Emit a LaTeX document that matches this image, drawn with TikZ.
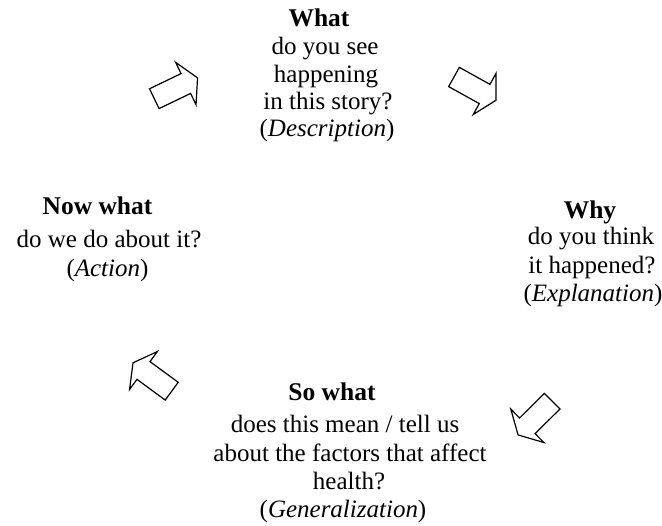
\documentclass[tikz,border=0pt]{standalone}
\usepackage{fontspec}
\setmainfont{Liberation Serif}
\begin{document}
\begin{tikzpicture}[x=1pt,y=-1pt,
  txt/.style={anchor=base,inner sep=0pt,font=\fontsize{25}{29}\selectfont},
  head/.style={txt,font=\fontsize{25.5}{29}\selectfont\bfseries},
  outline/.style={draw=black,line width=1.2pt,line join=miter,fill=white},
  cyclearrow/.pic={
    \draw[outline] (0,-11) -- (35,-11) -- (35,-23.5) -- (48,0)
      -- (35,23.5) -- (35,11) -- (0,11) -- cycle;
  }]
\useasboundingbox (0,0) rectangle (662,526);

% What
\node[head] (what)  at (319,27)  {What};
\node[txt]  (what1) at (325,55)  {do you see};
\node[txt]  (what2) at (326,82.5){happening};
\node[txt]  (what3) at (328,110) {in this story?};
\node[txt]  (what4) at (327,137) {(\textit{Description})};

% Why
\node[head] (why)  at (590,219)   {Why};
\node[txt]  (why1) at (591,245)   {do you think};
\node[txt]  (why2) at (592,274)   {it happened?};
\node[txt]  (why3) at (593,301.7) {(\textit{Explanation})};

% So what
\node[head] (so)  at (332,401)   {So what};
\node[txt]  (so1) at (345,433)   {does this mean / tell us};
\node[txt]  (so2) at (350,461.7) {about the factors that affect};
\node[txt]  (so3) at (349,490)   {health?};
\node[txt]  (so4) at (343,518)   {(\textit{Generalization})};

% Now what
\node[head] (now)  at (97.5,215)  {Now what};
\node[txt]  (now1) at (109,247.5) {do we do about it?};
\node[txt]  (now2) at (107.5,277) {(\textit{Action})};

% block arrows of the cycle
\pic[rotate=25.7]   (arrowA) at (154.3,98.7)  {cyclearrow};
\pic[rotate=-29]    (arrowB) at (454,77)      {cyclearrow};
\pic[rotate=-135.3] (arrowC) at (552.2,401.2) {cyclearrow};
\pic[rotate=143.7]  (arrowD) at (171.7,391.2) {cyclearrow};
\end{tikzpicture}
\end{document}
